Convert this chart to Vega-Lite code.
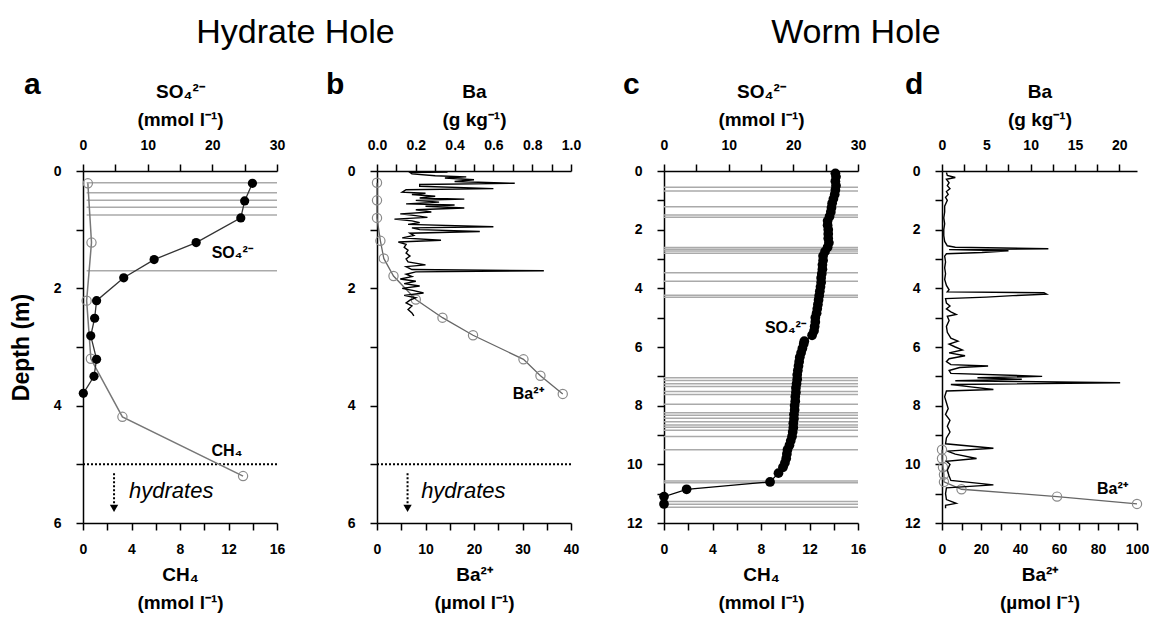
{
  "$schema": "https://vega.github.io/schema/vega-lite/v6.json",
  "padding": {"left": 10, "top": 16, "right": 4, "bottom": 4},
  "config": {
    "font": "Liberation Sans",
    "view": {"stroke": null},
    "axis": {
      "domainColor": "#000", "domainWidth": 1.5, "tickColor": "#000", "tickWidth": 1.5, "tickSize": 7,
      "labelFont": "Liberation Sans", "labelFontSize": 14, "labelFontWeight": "bold", "labelColor": "#000",
      "titleFont": "Liberation Sans", "titleFontSize": 19, "titleFontWeight": "bold", "titleColor": "#000",
      "grid": false, "labelOverlap": false, "labelFlush": false, "labelPadding": 12, "titlePadding": 9, "titleLineHeight": 28
    },
    "axisY": {"titleFontSize": 23, "titlePadding": 20, "labelPadding": 15},
    "title": {"font": "Liberation Sans", "color": "#000"}
  },
  "datasets": {
    "blank": [{}],
    "a_rules": [{"depth": 0.2}, {"depth": 0.37}, {"depth": 0.5}, {"depth": 0.62}, {"depth": 0.75}, {"depth": 1.7}],
    "a_so4": [
      {"depth": 0.21, "so4": 26.2}, {"depth": 0.51, "so4": 25.0}, {"depth": 0.8, "so4": 24.4}, {"depth": 1.22, "so4": 17.5},
      {"depth": 1.51, "so4": 11.0}, {"depth": 1.82, "so4": 6.3}, {"depth": 2.21, "so4": 2.1}, {"depth": 2.51, "so4": 1.8},
      {"depth": 2.81, "so4": 1.2}, {"depth": 3.21, "so4": 2.1}, {"depth": 3.5, "so4": 1.7}, {"depth": 3.79, "so4": 0.05}
    ],
    "a_ch4": [
      {"depth": 0.21, "ch4": 0.4}, {"depth": 1.22, "ch4": 0.7}, {"depth": 2.21, "ch4": 0.3},
      {"depth": 3.2, "ch4": 0.65}, {"depth": 4.19, "ch4": 3.25}, {"depth": 5.2, "ch4": 13.2}
    ],
    "b_ba": [
      {"depth": 0.0, "ba": 0.36}, {"depth": 0.02, "ba": 0.36}, {"depth": 0.025, "ba": 0.17}, {"depth": 0.05, "ba": 0.18},
      {"depth": 0.08, "ba": 0.3}, {"depth": 0.1, "ba": 0.46}, {"depth": 0.12, "ba": 0.35}, {"depth": 0.15, "ba": 0.5},
      {"depth": 0.18, "ba": 0.4}, {"depth": 0.21, "ba": 0.71}, {"depth": 0.23, "ba": 0.22}, {"depth": 0.26, "ba": 0.22},
      {"depth": 0.3, "ba": 0.6}, {"depth": 0.32, "ba": 0.15}, {"depth": 0.36, "ba": 0.13}, {"depth": 0.38, "ba": 0.25},
      {"depth": 0.4, "ba": 0.18}, {"depth": 0.43, "ba": 0.3}, {"depth": 0.46, "ba": 0.22}, {"depth": 0.48, "ba": 0.45},
      {"depth": 0.5, "ba": 0.2}, {"depth": 0.53, "ba": 0.32}, {"depth": 0.56, "ba": 0.15}, {"depth": 0.58, "ba": 0.4},
      {"depth": 0.6, "ba": 0.25}, {"depth": 0.63, "ba": 0.45}, {"depth": 0.66, "ba": 0.2}, {"depth": 0.7, "ba": 0.28},
      {"depth": 0.73, "ba": 0.12}, {"depth": 0.76, "ba": 0.2}, {"depth": 0.79, "ba": 0.26}, {"depth": 0.82, "ba": 0.09},
      {"depth": 0.85, "ba": 0.18}, {"depth": 0.88, "ba": 0.22}, {"depth": 0.91, "ba": 0.16}, {"depth": 0.95, "ba": 0.6},
      {"depth": 0.97, "ba": 0.18}, {"depth": 1.0, "ba": 0.22}, {"depth": 1.03, "ba": 0.53}, {"depth": 1.06, "ba": 0.17},
      {"depth": 1.1, "ba": 0.19}, {"depth": 1.14, "ba": 0.13}, {"depth": 1.18, "ba": 0.33}, {"depth": 1.21, "ba": 0.11},
      {"depth": 1.25, "ba": 0.15}, {"depth": 1.3, "ba": 0.14}, {"depth": 1.35, "ba": 0.16}, {"depth": 1.4, "ba": 0.15},
      {"depth": 1.45, "ba": 0.17}, {"depth": 1.5, "ba": 0.15}, {"depth": 1.55, "ba": 0.16}, {"depth": 1.6, "ba": 0.25},
      {"depth": 1.63, "ba": 0.15}, {"depth": 1.68, "ba": 0.18}, {"depth": 1.7, "ba": 0.86}, {"depth": 1.72, "ba": 0.2},
      {"depth": 1.76, "ba": 0.15}, {"depth": 1.8, "ba": 0.18}, {"depth": 1.84, "ba": 0.12}, {"depth": 1.88, "ba": 0.2},
      {"depth": 1.92, "ba": 0.14}, {"depth": 1.96, "ba": 0.22}, {"depth": 2.0, "ba": 0.13}, {"depth": 2.04, "ba": 0.19},
      {"depth": 2.08, "ba": 0.24}, {"depth": 2.12, "ba": 0.14}, {"depth": 2.16, "ba": 0.2}, {"depth": 2.2, "ba": 0.17},
      {"depth": 2.25, "ba": 0.15}, {"depth": 2.3, "ba": 0.18}, {"depth": 2.36, "ba": 0.16}, {"depth": 2.42, "ba": 0.18},
      {"depth": 2.47, "ba": 0.19}
    ],
    "b_ba2": [
      {"depth": 0.2, "ba2": 0}, {"depth": 0.5, "ba2": 0}, {"depth": 0.8, "ba2": 0}, {"depth": 1.19, "ba2": 0.7},
      {"depth": 1.49, "ba2": 1.4}, {"depth": 1.79, "ba2": 3.4}, {"depth": 2.19, "ba2": 8.0}, {"depth": 2.5, "ba2": 13.5},
      {"depth": 2.8, "ba2": 19.8}, {"depth": 3.21, "ba2": 30.2}, {"depth": 3.49, "ba2": 33.7}, {"depth": 3.8, "ba2": 38.3}
    ],
    "c_rules": [
      {"depth": 0.55}, {"depth": 0.68}, {"depth": 1.22}, {"depth": 1.5}, {"depth": 1.58}, {"depth": 2.61}, {"depth": 2.67},
      {"depth": 2.73}, {"depth": 2.8}, {"depth": 3.47}, {"depth": 3.76}, {"depth": 4.24}, {"depth": 4.3}, {"depth": 7.05},
      {"depth": 7.14}, {"depth": 7.25}, {"depth": 7.35}, {"depth": 7.52}, {"depth": 7.62}, {"depth": 7.95}, {"depth": 8.24},
      {"depth": 8.33}, {"depth": 8.43}, {"depth": 8.55}, {"depth": 8.66}, {"depth": 8.74}, {"depth": 8.84}, {"depth": 9.05},
      {"depth": 9.5}, {"depth": 10.57}, {"depth": 10.63}, {"depth": 11.27}, {"depth": 11.36}, {"depth": 11.46}
    ],
    "c_so4": [
      {"depth": 0.08, "so4": 26.5}, {"depth": 0.2, "so4": 26.6}, {"depth": 0.35, "so4": 26.5}, {"depth": 0.5, "so4": 26.6},
      {"depth": 0.65, "so4": 26.5}, {"depth": 0.8, "so4": 26.4}, {"depth": 0.95, "so4": 26.2}, {"depth": 1.1, "so4": 26.0},
      {"depth": 1.25, "so4": 25.9}, {"depth": 1.4, "so4": 25.8}, {"depth": 1.55, "so4": 25.6}, {"depth": 1.7, "so4": 25.3},
      {"depth": 1.85, "so4": 25.3}, {"depth": 2.0, "so4": 25.4}, {"depth": 2.15, "so4": 25.4}, {"depth": 2.3, "so4": 25.4},
      {"depth": 2.45, "so4": 25.5}, {"depth": 2.6, "so4": 25.3}, {"depth": 2.75, "so4": 24.9}, {"depth": 2.9, "so4": 24.6},
      {"depth": 3.05, "so4": 24.6}, {"depth": 3.2, "so4": 24.5}, {"depth": 3.35, "so4": 24.5}, {"depth": 3.5, "so4": 24.4},
      {"depth": 3.65, "so4": 24.3}, {"depth": 3.8, "so4": 24.3}, {"depth": 3.95, "so4": 24.2}, {"depth": 4.1, "so4": 24.1},
      {"depth": 4.25, "so4": 24.0}, {"depth": 4.4, "so4": 23.9}, {"depth": 4.55, "so4": 23.8}, {"depth": 4.7, "so4": 23.7},
      {"depth": 4.85, "so4": 23.6}, {"depth": 5.0, "so4": 23.4}, {"depth": 5.15, "so4": 23.4}, {"depth": 5.3, "so4": 23.3},
      {"depth": 5.45, "so4": 23.2}, {"depth": 5.6, "so4": 22.9}, {"depth": 5.8, "so4": 21.7}, {"depth": 5.9, "so4": 21.6},
      {"depth": 6.05, "so4": 21.4}, {"depth": 6.2, "so4": 21.2}, {"depth": 6.35, "so4": 21.0}, {"depth": 6.5, "so4": 20.9},
      {"depth": 6.65, "so4": 20.8}, {"depth": 6.8, "so4": 20.7}, {"depth": 6.95, "so4": 20.6}, {"depth": 7.1, "so4": 20.6},
      {"depth": 7.25, "so4": 20.5}, {"depth": 7.4, "so4": 20.4}, {"depth": 7.55, "so4": 20.4}, {"depth": 7.7, "so4": 20.3},
      {"depth": 7.85, "so4": 20.3}, {"depth": 8.0, "so4": 20.2}, {"depth": 8.15, "so4": 20.2}, {"depth": 8.3, "so4": 20.1},
      {"depth": 8.45, "so4": 20.1}, {"depth": 8.6, "so4": 20.0}, {"depth": 8.75, "so4": 20.0}, {"depth": 8.9, "so4": 19.9},
      {"depth": 9.05, "so4": 19.8}, {"depth": 9.2, "so4": 19.6}, {"depth": 9.35, "so4": 19.4}, {"depth": 9.5, "so4": 19.1},
      {"depth": 9.65, "so4": 19.0}, {"depth": 9.8, "so4": 18.9}, {"depth": 9.95, "so4": 18.7}, {"depth": 10.1, "so4": 18.4},
      {"depth": 10.3, "so4": 17.7}, {"depth": 10.6, "so4": 16.4}, {"depth": 10.85, "so4": 3.5}, {"depth": 11.1, "so4": 0},
      {"depth": 11.35, "so4": 0}
    ],
    "d_ba": [
      {"depth": 0.05, "ba": 0.5}, {"depth": 0.15, "ba": 0.6}, {"depth": 0.22, "ba": 1.5}, {"depth": 0.28, "ba": 0.5},
      {"depth": 0.4, "ba": 0.8}, {"depth": 0.5, "ba": 0.6}, {"depth": 0.6, "ba": 0.9}, {"depth": 0.7, "ba": 0.5},
      {"depth": 0.8, "ba": 0.7}, {"depth": 0.9, "ba": 0.4}, {"depth": 1.0, "ba": 0.6}, {"depth": 1.2, "ba": 0.3},
      {"depth": 1.4, "ba": 0.3}, {"depth": 1.6, "ba": 0.2}, {"depth": 1.8, "ba": 0.3}, {"depth": 2.0, "ba": 0.2},
      {"depth": 2.2, "ba": 0.2}, {"depth": 2.4, "ba": 0.3}, {"depth": 2.55, "ba": 0.6}, {"depth": 2.6, "ba": 1.5},
      {"depth": 2.65, "ba": 12.0}, {"depth": 2.68, "ba": 0.8}, {"depth": 2.72, "ba": 7.5}, {"depth": 2.78, "ba": 4.5},
      {"depth": 2.82, "ba": 0.5}, {"depth": 2.9, "ba": 0.3}, {"depth": 3.1, "ba": 0.4}, {"depth": 3.3, "ba": 0.3},
      {"depth": 3.5, "ba": 0.4}, {"depth": 3.7, "ba": 0.3}, {"depth": 3.9, "ba": 0.5}, {"depth": 4.05, "ba": 0.8},
      {"depth": 4.12, "ba": 0.6}, {"depth": 4.15, "ba": 11.5}, {"depth": 4.2, "ba": 11.8}, {"depth": 4.25, "ba": 8.0},
      {"depth": 4.3, "ba": 5.0}, {"depth": 4.35, "ba": 0.4}, {"depth": 4.5, "ba": 0.5}, {"depth": 4.6, "ba": 0.9},
      {"depth": 4.7, "ba": 0.5}, {"depth": 4.8, "ba": 1.0}, {"depth": 4.89, "ba": 1.6}, {"depth": 4.95, "ba": 0.6},
      {"depth": 5.1, "ba": 0.8}, {"depth": 5.3, "ba": 0.5}, {"depth": 5.5, "ba": 0.6}, {"depth": 5.7, "ba": 1.0},
      {"depth": 5.8, "ba": 1.8}, {"depth": 5.9, "ba": 0.8}, {"depth": 6.0, "ba": 1.5}, {"depth": 6.1, "ba": 2.3},
      {"depth": 6.2, "ba": 0.8}, {"depth": 6.3, "ba": 2.6}, {"depth": 6.4, "ba": 0.8}, {"depth": 6.5, "ba": 0.5},
      {"depth": 6.6, "ba": 1.0}, {"depth": 6.65, "ba": 5.2}, {"depth": 6.7, "ba": 2.0}, {"depth": 6.8, "ba": 0.8},
      {"depth": 6.9, "ba": 1.0}, {"depth": 7.0, "ba": 11.3}, {"depth": 7.05, "ba": 4.0}, {"depth": 7.1, "ba": 9.0},
      {"depth": 7.15, "ba": 1.5}, {"depth": 7.22, "ba": 20.1}, {"depth": 7.28, "ba": 1.0}, {"depth": 7.35, "ba": 3.0},
      {"depth": 7.45, "ba": 5.8}, {"depth": 7.5, "ba": 0.5}, {"depth": 7.7, "ba": 0.3}, {"depth": 7.9, "ba": 0.5},
      {"depth": 8.1, "ba": 0.7}, {"depth": 8.3, "ba": 0.4}, {"depth": 8.5, "ba": 0.9}, {"depth": 8.7, "ba": 0.6},
      {"depth": 8.9, "ba": 0.9}, {"depth": 9.1, "ba": 0.5}, {"depth": 9.3, "ba": 0.4}, {"depth": 9.45, "ba": 5.8},
      {"depth": 9.55, "ba": 0.6}, {"depth": 9.65, "ba": 1.5}, {"depth": 9.8, "ba": 3.9}, {"depth": 9.9, "ba": 0.5},
      {"depth": 10.0, "ba": 0.9}, {"depth": 10.2, "ba": 0.6}, {"depth": 10.4, "ba": 0.8}, {"depth": 10.55, "ba": 1.0},
      {"depth": 10.7, "ba": 5.8}, {"depth": 10.8, "ba": 0.5}, {"depth": 11.0, "ba": 0.4}, {"depth": 11.2, "ba": 0.5},
      {"depth": 11.33, "ba": 1.6}, {"depth": 11.4, "ba": 0.4}, {"depth": 11.5, "ba": 0.4}
    ],
    "d_ba2": [
      {"depth": 9.5, "ba2": 0}, {"depth": 9.8, "ba2": 0}, {"depth": 10.1, "ba2": 0.5}, {"depth": 10.35, "ba2": 1},
      {"depth": 10.6, "ba2": 1}, {"depth": 10.85, "ba2": 10}, {"depth": 11.1, "ba2": 59}, {"depth": 11.35, "ba2": 100}
    ]
  },
  "hconcat": [
    {
      "title": {"text": "Hydrate Hole", "fontSize": 34, "fontWeight": "normal", "anchor": "middle", "frame": "bounds", "offset": 20},
      "bounds": "flush",
      "spacing": 100,
      "hconcat": [
        {
          "width": 194, "height": 352,
          "title": {"text": "a", "anchor": "start", "frame": "group", "dx": -59, "dy": 22, "fontSize": 30, "fontWeight": "bold"},
          "layer": [
            {
              "layer": [
                {"data": {"name": "a_rules"}, "mark": {"type": "rule", "color": "#aaaaaa", "strokeWidth": 1.5},
                 "encoding": {
                   "y": {"field": "depth", "type": "quantitative", "scale": {"domain": [0, 6], "reverse": true, "nice": false},
                         "axis": {"title": "Depth (m)", "values": [0, 1, 2, 3, 4, 5, 6], "tickCount": 7, "labelExpr": "datum.value % 2 === 0 ? format(datum.value, 'd') : ''"}},
                   "x": {"datum": 0.3, "type": "quantitative", "scale": {"domain": [0, 16], "nice": false},
                         "axis": {"orient": "bottom", "title": ["CH₄", "(mmol l⁻¹)"], "values": [0, 2, 4, 6, 8, 10, 12, 14, 16], "tickCount": 9, "labelExpr": "datum.value % 4 === 0 ? format(datum.value, 'd') : ''"}},
                   "x2": {"datum": 16}
                 }},
                {"data": {"name": "blank"}, "mark": {"type": "rule", "color": "#000", "strokeWidth": 2, "strokeDash": [2, 2]},
                 "encoding": {"y": {"datum": 5}, "x": {"datum": 0}, "x2": {"datum": 16}}},
                {"data": {"name": "a_ch4"}, "mark": {"type": "line", "color": "#777777", "strokeWidth": 1.5},
                 "encoding": {"x": {"field": "ch4", "type": "quantitative"}, "y": {"field": "depth", "type": "quantitative"}, "order": {"field": "depth", "type": "quantitative"}}},
                {"data": {"name": "a_ch4"}, "mark": {"type": "point", "filled": false, "stroke": "#8a8a8a", "strokeWidth": 1.2, "size": 85, "opacity": 1},
                 "encoding": {"x": {"field": "ch4", "type": "quantitative"}, "y": {"field": "depth", "type": "quantitative"}}},
                {"data": {"name": "blank"}, "mark": {"type": "text", "text": "CH₄", "fontSize": 16, "fontWeight": "bold", "align": "left", "baseline": "middle", "color": "#000"},
                 "encoding": {"x": {"datum": 10.6}, "y": {"datum": 4.78}}},
                {"data": {"name": "blank"}, "mark": {"type": "text", "text": "hydrates", "fontSize": 22, "fontStyle": "italic", "align": "left", "baseline": "middle", "color": "#000"},
                 "encoding": {"x": {"datum": 3.8}, "y": {"datum": 5.45}}},
                {"data": {"name": "blank"}, "mark": {"type": "rule", "color": "#000", "strokeWidth": 2, "strokeDash": [2, 2]},
                 "encoding": {"x": {"datum": 2.56}, "y": {"datum": 5.15}, "y2": {"datum": 5.68}}},
                {"data": {"name": "blank"}, "mark": {"type": "point", "shape": "triangle-down", "filled": true, "color": "#000", "size": 70, "opacity": 1},
                 "encoding": {"x": {"datum": 2.56}, "y": {"datum": 5.75}}}
              ]
            },
            {
              "layer": [
                {"data": {"name": "a_so4"}, "mark": {"type": "line", "color": "#333333", "strokeWidth": 1.3},
                 "encoding": {
                   "x": {"field": "so4", "type": "quantitative", "scale": {"domain": [0, 30], "nice": false},
                         "axis": {"orient": "top", "title": ["SO₄²⁻", "(mmol l⁻¹)"], "values": [0, 5, 10, 15, 20, 25, 30], "tickCount": 7, "labelExpr": "datum.value % 10 === 0 ? format(datum.value, 'd') : ''"}},
                   "y": {"field": "depth", "type": "quantitative"}, "order": {"field": "depth", "type": "quantitative"}}},
                {"data": {"name": "a_so4"}, "mark": {"type": "point", "filled": true, "color": "#000", "size": 85, "opacity": 1},
                 "encoding": {"x": {"field": "so4", "type": "quantitative"}, "y": {"field": "depth", "type": "quantitative"}}},
                {"data": {"name": "blank"}, "mark": {"type": "text", "text": "SO₄²⁻", "fontSize": 16, "fontWeight": "bold", "align": "left", "baseline": "middle", "color": "#000"},
                 "encoding": {"x": {"datum": 19.9}, "y": {"datum": 1.4}}}
              ]
            }
          ],
          "resolve": {"scale": {"x": "independent"}, "axis": {"x": "independent"}}
        },
        {
          "width": 194, "height": 352,
          "title": {"text": "b", "anchor": "start", "frame": "group", "dx": -51, "dy": 22, "fontSize": 30, "fontWeight": "bold"},
          "layer": [
            {
              "layer": [
                {"data": {"name": "b_ba2"}, "mark": {"type": "line", "color": "#666666", "strokeWidth": 1.3},
                 "encoding": {
                   "x": {"field": "ba2", "type": "quantitative", "scale": {"domain": [0, 40], "nice": false},
                         "axis": {"orient": "bottom", "title": ["Ba²⁺", "(µmol l⁻¹)"], "values": [0, 5, 10, 15, 20, 25, 30, 35, 40], "tickCount": 9, "labelExpr": "datum.value % 10 === 0 ? format(datum.value, 'd') : ''"}},
                   "y": {"field": "depth", "type": "quantitative", "scale": {"domain": [0, 6], "reverse": true, "nice": false},
                         "axis": {"title": null, "values": [0, 1, 2, 3, 4, 5, 6], "tickCount": 7, "labelExpr": "datum.value % 2 === 0 ? format(datum.value, 'd') : ''"}},
                   "order": {"field": "depth", "type": "quantitative"}}},
                {"data": {"name": "b_ba2"}, "mark": {"type": "point", "filled": false, "stroke": "#8a8a8a", "strokeWidth": 1.2, "size": 85, "opacity": 1},
                 "encoding": {"x": {"field": "ba2", "type": "quantitative"}, "y": {"field": "depth", "type": "quantitative"}}},
                {"data": {"name": "blank"}, "mark": {"type": "rule", "color": "#000", "strokeWidth": 2, "strokeDash": [2, 2]},
                 "encoding": {"y": {"datum": 5}, "x": {"datum": 0}, "x2": {"datum": 40}}},
                {"data": {"name": "blank"}, "mark": {"type": "text", "text": "Ba²⁺", "fontSize": 16, "fontWeight": "bold", "align": "left", "baseline": "middle", "color": "#000"},
                 "encoding": {"x": {"datum": 28}, "y": {"datum": 3.8}}},
                {"data": {"name": "blank"}, "mark": {"type": "text", "text": "hydrates", "fontSize": 22, "fontStyle": "italic", "align": "left", "baseline": "middle", "color": "#000"},
                 "encoding": {"x": {"datum": 9.1}, "y": {"datum": 5.45}}},
                {"data": {"name": "blank"}, "mark": {"type": "rule", "color": "#000", "strokeWidth": 2, "strokeDash": [2, 2]},
                 "encoding": {"x": {"datum": 6.3}, "y": {"datum": 5.15}, "y2": {"datum": 5.68}}},
                {"data": {"name": "blank"}, "mark": {"type": "point", "shape": "triangle-down", "filled": true, "color": "#000", "size": 70, "opacity": 1},
                 "encoding": {"x": {"datum": 6.3}, "y": {"datum": 5.75}}}
              ]
            },
            {
              "layer": [
                {"data": {"name": "b_ba"}, "mark": {"type": "line", "color": "#000", "strokeWidth": 1.4},
                 "encoding": {
                   "x": {"field": "ba", "type": "quantitative", "scale": {"domain": [0, 1], "nice": false},
                         "axis": {"orient": "top", "title": ["Ba", "(g kg⁻¹)"], "values": [0, 0.1, 0.2, 0.3, 0.4, 0.5, 0.6, 0.7, 0.8, 0.9, 1.0], "tickCount": 11, "labelExpr": "round(datum.value * 10) % 2 === 0 ? format(datum.value, '.1f') : ''"}},
                   "y": {"field": "depth", "type": "quantitative"}, "order": {"field": "depth", "type": "quantitative"}}}
              ]
            }
          ],
          "resolve": {"scale": {"x": "independent"}, "axis": {"x": "independent"}}
        }
      ]
    },
    {
      "title": {"text": "Worm Hole", "fontSize": 34, "fontWeight": "normal", "anchor": "middle", "frame": "bounds", "offset": 20, "dx": -30},
      "bounds": "flush",
      "spacing": 84,
      "hconcat": [
        {
          "width": 194, "height": 352,
          "title": {"text": "c", "anchor": "start", "frame": "group", "dx": -41, "dy": 22, "fontSize": 30, "fontWeight": "bold"},
          "layer": [
            {
              "layer": [
                {"data": {"name": "c_rules"}, "mark": {"type": "rule", "color": "#aaaaaa", "strokeWidth": 1.5},
                 "encoding": {
                   "y": {"field": "depth", "type": "quantitative", "scale": {"domain": [0, 12], "reverse": true, "nice": false},
                         "axis": {"title": null, "values": [0, 1, 2, 3, 4, 5, 6, 7, 8, 9, 10, 11, 12], "tickCount": 13, "labelExpr": "datum.value % 2 === 0 ? format(datum.value, 'd') : ''"}},
                   "x": {"datum": 0, "type": "quantitative", "scale": {"domain": [0, 16], "nice": false},
                         "axis": {"orient": "bottom", "title": ["CH₄", "(mmol l⁻¹)"], "values": [0, 2, 4, 6, 8, 10, 12, 14, 16], "tickCount": 9, "labelExpr": "datum.value % 4 === 0 ? format(datum.value, 'd') : ''"}},
                   "x2": {"datum": 16}
                 }}
              ]
            },
            {
              "layer": [
                {"data": {"name": "c_so4"}, "mark": {"type": "line", "color": "#000", "strokeWidth": 1.3},
                 "encoding": {
                   "x": {"field": "so4", "type": "quantitative", "scale": {"domain": [0, 30], "nice": false},
                         "axis": {"orient": "top", "title": ["SO₄²⁻", "(mmol l⁻¹)"], "values": [0, 5, 10, 15, 20, 25, 30], "tickCount": 7, "labelExpr": "datum.value % 10 === 0 ? format(datum.value, 'd') : ''"}},
                   "y": {"field": "depth", "type": "quantitative"}, "order": {"field": "depth", "type": "quantitative"}}},
                {"data": {"name": "c_so4"}, "mark": {"type": "point", "filled": true, "color": "#000", "size": 95, "opacity": 1},
                 "encoding": {"x": {"field": "so4", "type": "quantitative"}, "y": {"field": "depth", "type": "quantitative"}}},
                {"data": {"name": "blank"}, "mark": {"type": "text", "text": "SO₄²⁻", "fontSize": 16, "fontWeight": "bold", "align": "left", "baseline": "middle", "color": "#000"},
                 "encoding": {"x": {"datum": 15.6}, "y": {"datum": 5.36}}}
              ]
            }
          ],
          "resolve": {"scale": {"x": "independent"}, "axis": {"x": "independent"}}
        },
        {
          "width": 195, "height": 352,
          "title": {"text": "d", "anchor": "start", "frame": "group", "dx": -37, "dy": 22, "fontSize": 30, "fontWeight": "bold"},
          "layer": [
            {
              "layer": [
                {"data": {"name": "d_ba2"}, "mark": {"type": "line", "color": "#666666", "strokeWidth": 1.3},
                 "encoding": {
                   "x": {"field": "ba2", "type": "quantitative", "scale": {"domain": [0, 100], "nice": false},
                         "axis": {"orient": "bottom", "title": ["Ba²⁺", "(µmol l⁻¹)"], "values": [0, 10, 20, 30, 40, 50, 60, 70, 80, 90, 100], "tickCount": 11, "labelExpr": "datum.value % 20 === 0 ? format(datum.value, 'd') : ''"}},
                   "y": {"field": "depth", "type": "quantitative", "scale": {"domain": [0, 12], "reverse": true, "nice": false},
                         "axis": {"title": null, "values": [0, 1, 2, 3, 4, 5, 6, 7, 8, 9, 10, 11, 12], "tickCount": 13, "labelExpr": "datum.value % 2 === 0 ? format(datum.value, 'd') : ''"}},
                   "order": {"field": "depth", "type": "quantitative"}}},
                {"data": {"name": "d_ba2"}, "mark": {"type": "point", "filled": false, "stroke": "#8a8a8a", "strokeWidth": 1.2, "size": 85, "opacity": 1},
                 "encoding": {"x": {"field": "ba2", "type": "quantitative"}, "y": {"field": "depth", "type": "quantitative"}}},
                {"data": {"name": "blank"}, "mark": {"type": "text", "text": "Ba²⁺", "fontSize": 16, "fontWeight": "bold", "align": "left", "baseline": "middle", "color": "#000"},
                 "encoding": {"x": {"datum": 79.5}, "y": {"datum": 10.85}}}
              ]
            },
            {
              "layer": [
                {"data": {"name": "d_ba"}, "mark": {"type": "line", "color": "#000", "strokeWidth": 1.4},
                 "encoding": {
                   "x": {"field": "ba", "type": "quantitative", "scale": {"domain": [0, 22], "nice": false},
                         "axis": {"orient": "top", "title": ["Ba", "(g kg⁻¹)"], "values": [0, 2.5, 5, 7.5, 10, 12.5, 15, 17.5, 20], "tickCount": 9, "labelExpr": "datum.value % 5 === 0 ? format(datum.value, 'd') : ''"}},
                   "y": {"field": "depth", "type": "quantitative"}, "order": {"field": "depth", "type": "quantitative"}}}
              ]
            }
          ],
          "resolve": {"scale": {"x": "independent"}, "axis": {"x": "independent"}}
        }
      ]
    }
  ],
  "spacing": 42
}
